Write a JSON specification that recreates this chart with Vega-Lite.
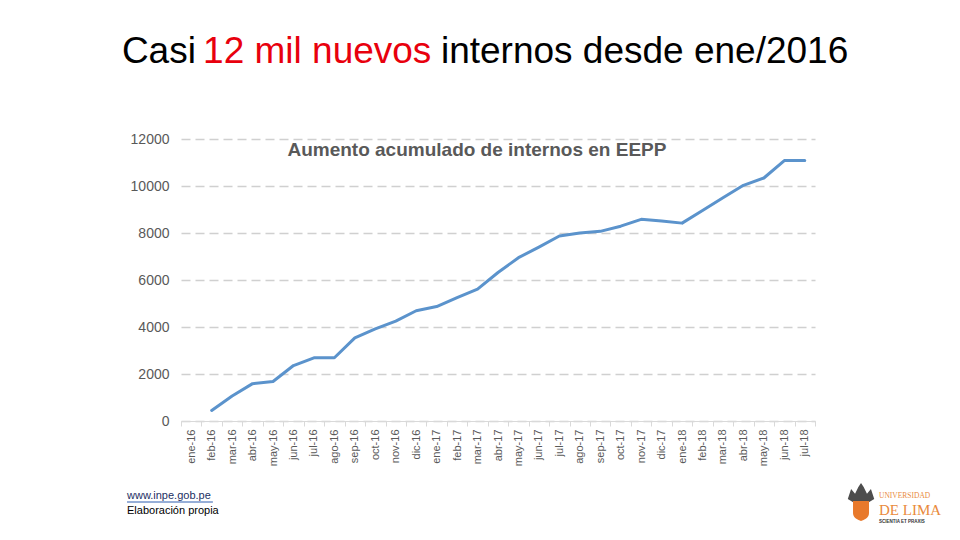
{
  "$schema": "https://vega.github.io/schema/vega-lite/v6.json",
  "autosize": {"type": "none"},
  "width": 634,
  "height": 282,
  "padding": {"left": 181, "top": 139, "right": 145, "bottom": 119},
  "background": "white",
  "config": {"view": {"stroke": null}},
  "layer": [
    {
      "data": {
        "values": [
          {"mes": "feb-16", "internos": 450},
          {"mes": "mar-16", "internos": 1065},
          {"mes": "abr-16", "internos": 1590},
          {"mes": "may-16", "internos": 1680},
          {"mes": "jun-16", "internos": 2360},
          {"mes": "jul-16", "internos": 2690},
          {"mes": "ago-16", "internos": 2690},
          {"mes": "sep-16", "internos": 3540},
          {"mes": "oct-16", "internos": 3920},
          {"mes": "nov-16", "internos": 4250},
          {"mes": "dic-16", "internos": 4690},
          {"mes": "ene-17", "internos": 4870},
          {"mes": "feb-17", "internos": 5250},
          {"mes": "mar-17", "internos": 5610},
          {"mes": "abr-17", "internos": 6320},
          {"mes": "may-17", "internos": 6950},
          {"mes": "jun-17", "internos": 7400},
          {"mes": "jul-17", "internos": 7870},
          {"mes": "ago-17", "internos": 8000},
          {"mes": "sep-17", "internos": 8070},
          {"mes": "oct-17", "internos": 8290},
          {"mes": "nov-17", "internos": 8580},
          {"mes": "dic-17", "internos": 8510},
          {"mes": "ene-18", "internos": 8420},
          {"mes": "feb-18", "internos": 8960},
          {"mes": "mar-18", "internos": 9500},
          {"mes": "abr-18", "internos": 10030},
          {"mes": "may-18", "internos": 10340},
          {"mes": "jun-18", "internos": 11080},
          {"mes": "jul-18", "internos": 11080}
        ]
      },
      "mark": {"type": "line", "color": "#5b93cc", "strokeWidth": 3, "strokeJoin": "round", "strokeCap": "round"},
      "encoding": {
        "x": {
          "field": "mes",
          "type": "ordinal",
          "sort": null,
          "bandPosition": 0.5,
          "scale": {
            "type": "band",
            "paddingInner": 0,
            "paddingOuter": 0,
            "domain": ["ene-16", "feb-16", "mar-16", "abr-16", "may-16", "jun-16", "jul-16", "ago-16", "sep-16", "oct-16", "nov-16", "dic-16",
                       "ene-17", "feb-17", "mar-17", "abr-17", "may-17", "jun-17", "jul-17", "ago-17", "sep-17", "oct-17", "nov-17", "dic-17",
                       "ene-18", "feb-18", "mar-18", "abr-18", "may-18", "jun-18", "jul-18"]
          },
          "axis": {
            "title": null,
            "labelAngle": 270,
            "labelFont": "Liberation Sans",
            "labelFontSize": 11,
            "labelColor": "#595959",
            "labelPadding": 3,
            "domainColor": "#d9d9d9",
            "domainWidth": 1,
            "tickColor": "#d9d9d9",
            "tickSize": 5,
            "tickBand": "extent",
            "grid": false
          }
        },
        "y": {
          "field": "internos",
          "type": "quantitative",
          "scale": {"domain": [0, 12000], "nice": false},
          "axis": {
            "title": null,
            "values": [0, 2000, 4000, 6000, 8000, 10000, 12000],
            "format": "d",
            "labelFont": "Liberation Sans",
            "labelFontSize": 14,
            "labelColor": "#595959",
            "labelPadding": 12,
            "domain": false,
            "ticks": false,
            "grid": true,
            "gridColor": "#d0d0d0",
            "gridDash": [9, 5],
            "gridWidth": 1.5
          }
        }
      }
    },
    {
      "data": {"values": [{"t": "Aumento acumulado de internos en EEPP"}]},
      "mark": {"type": "text", "align": "center", "baseline": "alphabetic", "font": "Liberation Sans", "fontWeight": "bold", "fontSize": 19, "color": "#595959"},
      "encoding": {
        "x": {"datum": "mar-17", "type": "ordinal", "bandPosition": 0.47},
        "y": {"datum": 11277, "type": "quantitative"},
        "text": {"field": "t"}
      }
    },
    {
      "data": {"values": [{"t": "Casi"}]},
      "mark": {"type": "text", "align": "right", "baseline": "alphabetic", "font": "Liberation Sans", "fontSize": 37, "color": "#000000"},
      "encoding": {
        "x": {"datum": "ene-16", "type": "ordinal", "bandPosition": 0.73},
        "y": {"datum": 15234, "type": "quantitative"},
        "text": {"field": "t"}
      }
    },
    {
      "data": {"values": [{"t": "12 mil nuevos"}]},
      "mark": {"type": "text", "align": "left", "baseline": "alphabetic", "font": "Liberation Sans", "fontSize": 37, "color": "#e8000d"},
      "encoding": {
        "x": {"datum": "feb-16", "type": "ordinal", "bandPosition": 0.08},
        "y": {"datum": 15234, "type": "quantitative"},
        "text": {"field": "t"}
      }
    },
    {
      "data": {"values": [{"t": "internos desde ene/2016"}]},
      "mark": {"type": "text", "align": "left", "baseline": "alphabetic", "font": "Liberation Sans", "fontSize": 37, "color": "#000000"},
      "encoding": {
        "x": {"datum": "ene-17", "type": "ordinal", "bandPosition": 0.71},
        "y": {"datum": 15234, "type": "quantitative"},
        "text": {"field": "t"}
      }
    },
    {
      "data": {"values": [{"t": "www.inpe.gob.pe"}]},
      "mark": {"type": "text", "align": "left", "baseline": "alphabetic", "font": "Liberation Sans", "fontSize": 11, "color": "#1c2f63"},
      "encoding": {
        "x": {"datum": "ene-16", "type": "ordinal", "bandPosition": -2.64},
        "y": {"datum": -3319, "type": "quantitative"},
        "text": {"field": "t"}
      }
    },
    {
      "data": {"values": [{"t": "www.inpe.gob.pe"}]},
      "mark": {"type": "rule", "color": "#2e5fb0", "strokeWidth": 1},
      "encoding": {
        "x": {"datum": "ene-16", "type": "ordinal", "bandPosition": -2.64},
        "x2": {"datum": "feb-16", "bandPosition": 0.56},
        "y": {"datum": -3447, "type": "quantitative"}
      }
    },
    {
      "data": {"values": [{"t": "Elaboración propia"}]},
      "mark": {"type": "text", "align": "left", "baseline": "alphabetic", "font": "Liberation Sans", "fontSize": 11, "color": "#000000"},
      "encoding": {
        "x": {"datum": "ene-16", "type": "ordinal", "bandPosition": -2.64},
        "y": {"datum": -3957, "type": "quantitative"},
        "text": {"field": "t"}
      }
    },
    {
      "data": {"values": [{"parte": "ave"}]},
      "mark": {"type": "point", "filled": true, "color": "#4d4d4d", "opacity": 1, "size": 700, "shape": "M-1,0.3L-0.75,-0.45L-0.45,-0.1L-0.2,-0.6L0,-0.9L0.2,-0.6L0.45,-0.1L0.75,-0.45L1,0.3L0.5,0.6L-0.5,0.6Z"},
      "encoding": {
        "x": {"datum": "jul-18", "type": "ordinal", "bandPosition": 3.25},
        "y": {"datum": -3149, "type": "quantitative"}
      }
    },
    {
      "data": {"values": [{"parte": "escudo"}]},
      "mark": {"type": "point", "filled": true, "color": "#e8792b", "opacity": 1, "size": 400, "shape": "M-0.8,-1L0.8,-1L0.8,0.2C0.8,0.7 0.3,0.9 0,1C-0.3,0.9 -0.8,0.7 -0.8,0.2Z"},
      "encoding": {
        "x": {"datum": "jul-18", "type": "ordinal", "bandPosition": 3.25},
        "y": {"datum": -3830, "type": "quantitative"}
      }
    },
    {
      "data": {"values": [{"t": "UNIVERSIDAD"}]},
      "mark": {"type": "text", "align": "left", "baseline": "alphabetic", "font": "Liberation Serif", "fontSize": 7.5, "color": "#e98a3c"},
      "encoding": {
        "x": {"datum": "jul-18", "type": "ordinal", "bandPosition": 4.13},
        "y": {"datum": -3277, "type": "quantitative"},
        "text": {"field": "t"}
      }
    },
    {
      "data": {"values": [{"t": "DE LIMA"}]},
      "mark": {"type": "text", "align": "left", "baseline": "alphabetic", "font": "Liberation Serif", "fontSize": 15, "color": "#e98a3c"},
      "encoding": {
        "x": {"datum": "jul-18", "type": "ordinal", "bandPosition": 4.13},
        "y": {"datum": -4000, "type": "quantitative"},
        "text": {"field": "t"}
      }
    },
    {
      "data": {"values": [{"t": "SCIENTIA ET PRAXIS"}]},
      "mark": {"type": "text", "align": "left", "baseline": "alphabetic", "font": "Liberation Sans", "fontWeight": "bold", "fontSize": 4.5, "color": "#333333"},
      "encoding": {
        "x": {"datum": "jul-18", "type": "ordinal", "bandPosition": 4.13},
        "y": {"datum": -4340, "type": "quantitative"},
        "text": {"field": "t"}
      }
    }
  ]
}
